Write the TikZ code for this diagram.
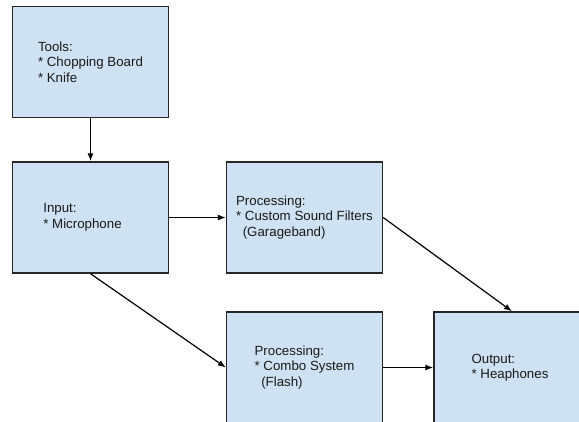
\documentclass[tikz,border=0pt]{standalone}
\usepackage{fontspec}
\setmainfont{Liberation Sans}
\usetikzlibrary{arrows.meta}
\definecolor{boxfill}{HTML}{CFE2F3}
\definecolor{boxline}{HTML}{262626}
\begin{document}
\begin{tikzpicture}[x=1pt,y=-1pt,
  blk/.style={draw=boxline, line width=1.4pt, fill=boxfill, minimum width=156pt, minimum height=111pt,
    align=left, inner sep=0pt, font=\fontsize{13.3}{15.5}\selectfont, text=black!90},
  conn/.style={draw=black, line width=1.2pt, -{Latex[length=8pt,width=6pt]}}]
\useasboundingbox (0,0) rectangle (579,421);
\clip (0,0) rectangle (579,421);
\fill[white] (0,0) rectangle (579,421);
\node[blk] (tools) at (90.5,62) {Tools:\\* Chopping Board\hspace*{2pt}\\* Knife};
\node[blk] (input) at (90.5,217.5) {Input:\\* Microphone\hspace*{16pt}};
\node[blk] (proc1) at (304.5,217.5) {Processing:\\* Custom Sound Filters\hspace*{4pt}\\\hspace*{0.5em}(Garageband)};
\node[blk] (proc2) at (304.5,367.5) {Processing:\\* Combo System\hspace*{8pt}\\\hspace*{0.5em}(Flash)};
\node[blk] (output) at (512,367.5) {Output:\\* Heaphones\hspace*{4pt}};
\draw[conn] (tools.south) -- (input.north);
\draw[conn] (input.east) -- (proc1.west);
\draw[conn] (input.south) -- (proc2.west);
\draw[conn] (proc1.east) -- (output.north);
\draw[conn] (proc2.east) -- (output.west);
\end{tikzpicture}
\end{document}
